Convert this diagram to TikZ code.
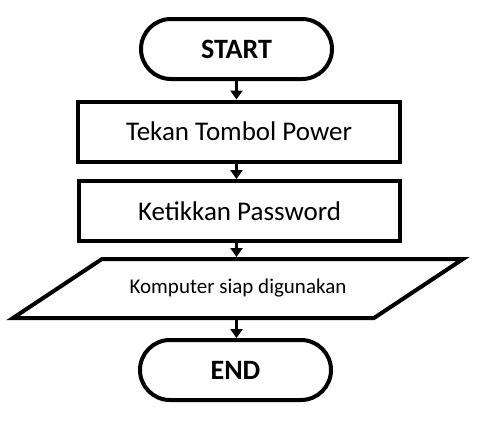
\documentclass[tikz,border=0pt]{standalone}
\usepackage{fontspec}
\setmainfont{Carlito}
\usetikzlibrary{arrows.meta,shapes.misc}
\begin{document}
\begin{tikzpicture}[x=1pt,y=-1pt,
  term/.style={rounded rectangle, draw, line width=4pt, minimum width=191pt, minimum height=60pt, font=\fontsize{28}{32}\selectfont\bfseries, inner sep=0pt},
  procbox/.style={rectangle, draw, line width=4pt, minimum height=60pt, font=\fontsize{27}{32}\selectfont, inner sep=0pt},
  iobox/.style={rectangle, minimum width=357pt, minimum height=59pt, font=\fontsize{21}{25}\selectfont, inner sep=0pt, outer sep=2pt},
  flow/.style={line width=3.8pt, -{Triangle[width=12pt,length=9pt]}}]
\useasboundingbox[fill=white] (0,0) rectangle (479,423);
\node[term] (start) at (236.5,49) {START};
\node[procbox, minimum width=322pt] (b1) at (239,131.5) {Tekan Tombol Power};
\node[procbox, minimum width=321pt] (b2) at (239.5,211) {Ketikkan Password};
\node[iobox] (io) at (238,288.5) {Komputer siap digunakan};
\draw[line width=4pt, line join=miter] ([xshift=44.5pt,yshift=-2pt]io.north west) -- ([xshift=44.5pt,yshift=-2pt]io.north east) -- ([xshift=-44.5pt,yshift=2pt]io.south east) -- ([xshift=-44.5pt,yshift=2pt]io.south west) -- cycle;
\node[term] (end) at (235.5,370) {END};
\draw[flow] (start.south) -- (start.south |- b1.north);
\draw[flow] (start.south |- b1.south) -- (start.south |- b2.north);
\draw[flow] (start.south |- b2.south) -- (start.south |- io.north);
\draw[flow] (start.south |- io.south) -- (start.south |- end.north);
\end{tikzpicture}
\end{document}
